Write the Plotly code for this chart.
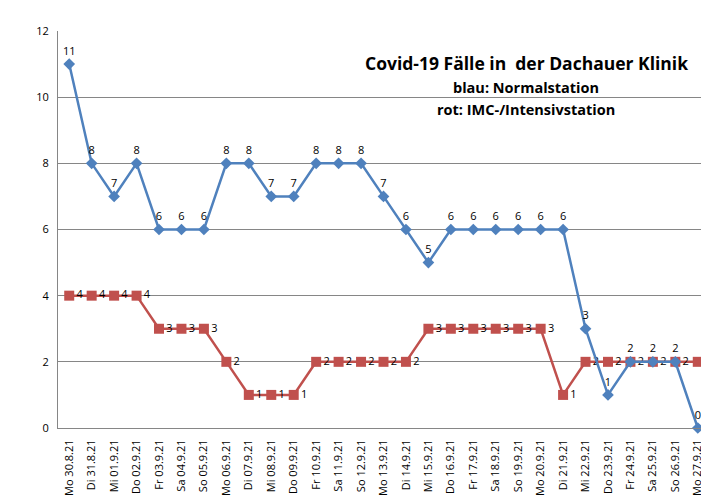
import plotly.graph_objects as go

tage = ["Mo 30.8.21", "Di 31.8.21", "Mi 01.9.21", "Do 02.9.21", "Fr 03.9.21",
        "Sa 04.9.21", "So 05.9.21", "Mo 06.9.21", "Di 07.9.21", "Mi 08.9.21",
        "Do 09.9.21", "Fr 10.9.21", "Sa 11.9.21", "So 12.9.21", "Mo 13.9.21",
        "Di 14.9.21", "Mi 15.9.21", "Do 16.9.21", "Fr 17.9.21", "Sa 18.9.21",
        "So 19.9.21", "Mo 20.9.21", "Di 21.9.21", "Mi 22.9.21", "Do 23.9.21",
        "Fr 24.9.21", "Sa 25.9.21", "So 26.9.21", "Mo 27.9.21"]

normalstation = [11, 8, 7, 8, 6, 6, 6, 8, 8, 7, 7, 8, 8, 8, 7, 6, 5, 6, 6, 6,
                 6, 6, 6, 3, 1, 2, 2, 2, 0]
intensivstation = [4, 4, 4, 4, 3, 3, 3, 2, 1, 1, 1, 2, 2, 2, 2, 2, 3, 3, 3, 3,
                   3, 3, 1, 2, 2, 2, 2, 2, 2]

blau = "#4F81BD"
rot = "#C0504D"

fig = go.Figure()
fig.add_trace(go.Scatter(
    x=tage, y=intensivstation, mode="lines+markers+text",
    text=[str(v) for v in intensivstation], textposition="middle right",
    textfont=dict(size=11, color="black"),
    line=dict(color=rot, width=2.5),
    marker=dict(symbol="square", size=10, color=rot),
    cliponaxis=False, name="rot"))
fig.add_trace(go.Scatter(
    x=tage, y=normalstation, mode="lines+markers+text",
    text=[str(v) for v in normalstation], textposition="top center",
    textfont=dict(size=11, color="black"),
    line=dict(color=blau, width=2.5),
    marker=dict(symbol="diamond", size=9, color=blau),
    cliponaxis=False, name="blau"))

# title lines: (text, pixel y, font size)
titel = [("<b>Covid-19 Fälle in  der Dachauer Klinik</b>", 63, 17.5),
         ("<b>blau: Normalstation</b>", 87, 14.5),
         ("<b>rot: IMC-/Intensivstation</b>", 109, 14.5)]

# the page body has an 8px margin, so the figure is 8px smaller and
# the margins are 8px less on the top/left side
fig.update_layout(
    width=701, height=491,
    margin=dict(l=50, r=0, t=23, b=71),
    paper_bgcolor="white", plot_bgcolor="white",
    showlegend=False,
    font=dict(family="Open Sans, Liberation Sans, sans-serif", size=10, color="black"),
    annotations=[dict(text=t, x=0.719, y=(428 - py) / (428 - 31),
                      xref="paper", yref="paper", xanchor="center", yanchor="middle",
                      showarrow=False, font=dict(size=fs))
                 for t, py, fs in titel],
)

fig.update_xaxes(
    type="category", range=[-0.5, len(tage) - 0.5], tickangle=-90,
    showgrid=False, automargin=False, ticklabelstandoff=6,
    showline=True, linecolor="#868686", linewidth=1,
    ticks="", tickfont=dict(size=11))
fig.update_yaxes(
    range=[0, 12], dtick=2, showgrid=True, gridcolor="#868686", gridwidth=1,
    showline=True, linecolor="#868686", linewidth=1, zeroline=False,
    automargin=False, ticklabelstandoff=6, ticks="", tickfont=dict(size=11))

fig.write_html("out.html")
